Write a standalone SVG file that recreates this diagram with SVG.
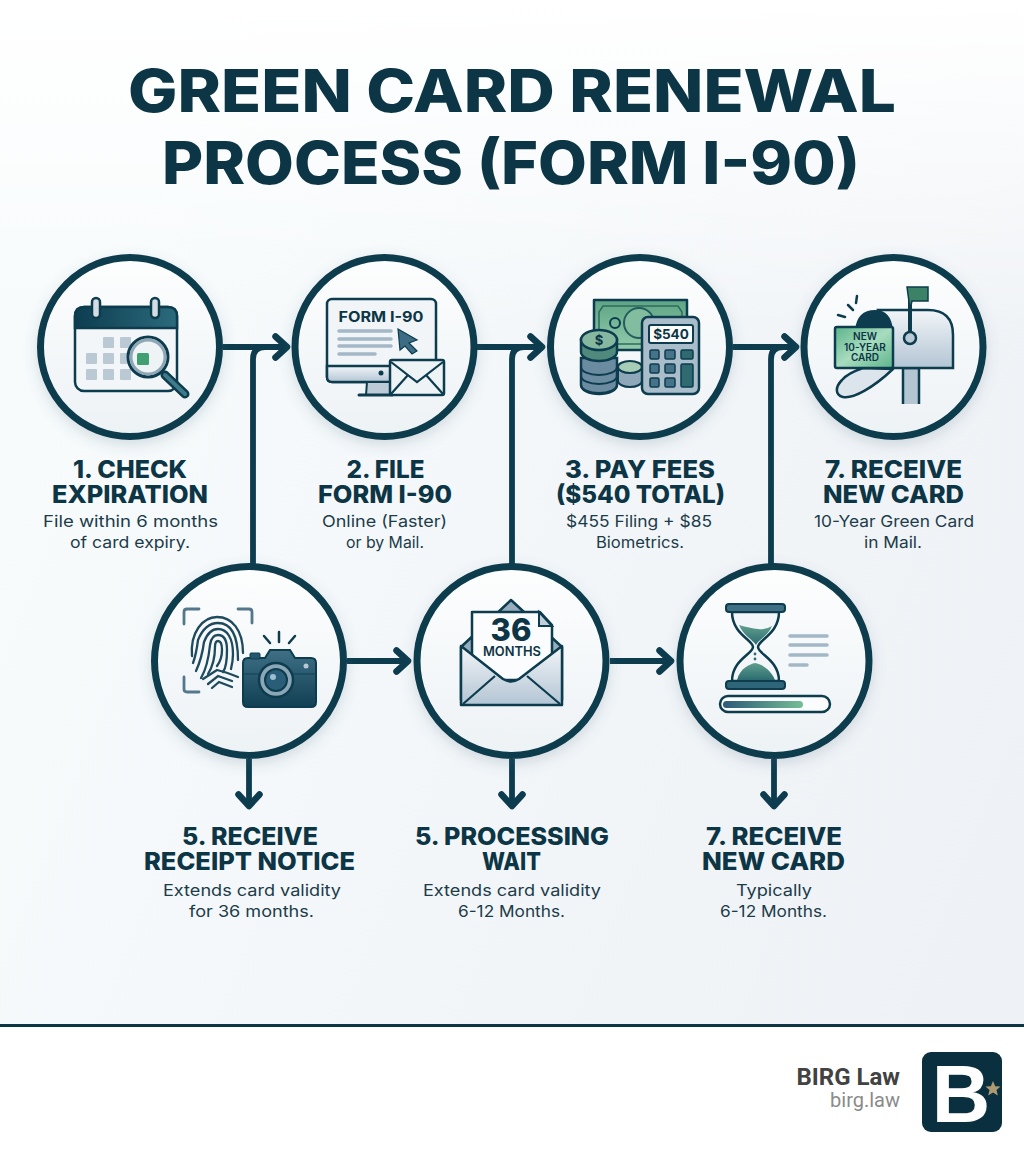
<svg xmlns="http://www.w3.org/2000/svg" width="1024" height="1154" viewBox="0 0 1024 1154">
<style>
text{font-family:"Inter","Liberation Sans",sans-serif;fill:#0c3545;text-anchor:middle}
.t{font-size:59px;font-weight:800}
.h{font-size:24px;font-weight:800}
.s{font-size:16px;font-weight:400;fill:#1c3c4a}
.ring{fill:url(#disc);stroke:#0c3c4e;stroke-width:7;filter:url(#sh)}
.c{fill:none;stroke:#0c3c4e;stroke-width:5.8;stroke-linejoin:round}
.o{stroke:#0c3c4e;stroke-width:2.5;stroke-linejoin:round}
.ln{stroke:#a3b7c6;stroke-width:3.5;stroke-linecap:round;fill:none}
.g{fill:#b7c6d2;opacity:.95}
.fp{fill:none;stroke:#1e4a5e;stroke-width:2.3;stroke-linecap:round}
.ic{font-weight:700}
</style>
<defs>
<linearGradient id="bg" gradientUnits="userSpaceOnUse" x1="0" y1="500" x2="1024" y2="900"><stop offset="0" stop-color="#f7fbfc"/><stop offset="1" stop-color="#eef1f5"/></linearGradient>
<linearGradient id="top" x1="0" y1="0" x2="0" y2="1"><stop offset="0" stop-color="#fff"/><stop offset=".25" stop-color="#fff" stop-opacity=".75"/><stop offset="1" stop-color="#fff" stop-opacity="0"/></linearGradient>
<linearGradient id="disc" x1="0" y1="0" x2="0" y2="1"><stop offset="0" stop-color="#fdfefe"/><stop offset="1" stop-color="#edf2f5"/></linearGradient>
<linearGradient id="met" x1="0" y1="0" x2="0" y2="1"><stop offset="0" stop-color="#f2f5f8"/><stop offset="1" stop-color="#b3c5d4"/></linearGradient>
<linearGradient id="dark" x1="0" y1="0" x2="1" y2="0"><stop offset="0" stop-color="#0d3d50"/><stop offset="1" stop-color="#2b6b7c"/></linearGradient>
<linearGradient id="cam" x1="0" y1="0" x2="0" y2="1"><stop offset="0" stop-color="#3f7086"/><stop offset="1" stop-color="#113f53"/></linearGradient>
<linearGradient id="grn" x1="0" y1="0" x2="1" y2="1"><stop offset="0" stop-color="#5cb48a"/><stop offset=".5" stop-color="#a8dcbf"/><stop offset="1" stop-color="#5cb48a"/></linearGradient>
<linearGradient id="bill" x1="0" y1="0" x2="0" y2="1"><stop offset="0" stop-color="#5ea585"/><stop offset="1" stop-color="#93cbab"/></linearGradient>
<linearGradient id="sand" x1="0" y1="0" x2="0" y2="1"><stop offset="0" stop-color="#5f9f8e"/><stop offset="1" stop-color="#2c6c70"/></linearGradient>
<linearGradient id="bar" x1="0" y1="0" x2="1" y2="0"><stop offset="0" stop-color="#2c5a78"/><stop offset="1" stop-color="#76bd95"/></linearGradient>
<filter id="sh" x="-20%" y="-20%" width="140%" height="140%"><feDropShadow dx="0" dy="5" stdDeviation="7" flood-color="#4a6a7c" flood-opacity=".2"/></filter>
<marker id="a" markerUnits="userSpaceOnUse" markerWidth="30" markerHeight="34" refX="18" refY="16" orient="auto" overflow="visible"><path d="M5.500,5.500 L17,16 L5.500,26.500" fill="none" stroke="#0c3c4e" stroke-width="6.500" stroke-linecap="round" stroke-linejoin="round"/></marker>
</defs>
<rect width="1024" height="1154" fill="url(#bg)"/>
<rect width="1024" height="330" fill="url(#top)"/>
<g id="title">
<text class="t" x="512" y="112" textLength="768" lengthAdjust="spacingAndGlyphs">GREEN CARD RENEWAL</text>
<text class="t" x="511" y="184" textLength="698" lengthAdjust="spacingAndGlyphs">PROCESS (FORM I-90)</text>
</g>
<g id="connectors">
<path class="c" d="M253,566 V359 Q253,347 265,347"/>
<path class="c" d="M512,566 V359 Q512,347 524,347"/>
<path class="c" d="M771,566 V359 Q771,347 783,347"/>
<path class="c" d="M223,347 H288" marker-end="url(#a)"/>
<path class="c" d="M477,347 H543" marker-end="url(#a)"/>
<path class="c" d="M733,347 H797" marker-end="url(#a)"/>
<path class="c" d="M347,661 H409" marker-end="url(#a)"/>
<path class="c" d="M610,661 H672" marker-end="url(#a)"/>
<path class="c" d="M249,759 V807" marker-end="url(#a)"/>
<path class="c" d="M512,759 V807" marker-end="url(#a)"/>
<path class="c" d="M774,759 V807" marker-end="url(#a)"/>
</g>
<g id="step1">
<circle class="ring" cx="130" cy="347" r="89.5"/>
<rect class="o" x="75" y="307" width="102" height="84" rx="9" fill="#f3f6f8"/>
<path d="M75,328 V316 Q75,307 84,307 H168 Q177,307 177,316 V328 Z" fill="url(#dark)" stroke="#0c3c4e" stroke-width="2.5"/>
<rect class="o" x="92" y="298" width="8" height="20" rx="4" fill="#d4dde4"/>
<rect class="o" x="151" y="298" width="8" height="20" rx="4" fill="#d4dde4"/>
<rect class="g" x="103" y="337" width="11" height="11" rx="1"/><rect class="g" x="120" y="337" width="11" height="11" rx="1"/>
<rect class="g" x="86" y="353" width="11" height="11" rx="1"/><rect class="g" x="103" y="353" width="11" height="11" rx="1"/><rect class="g" x="120" y="353" width="11" height="11" rx="1"/>
<rect class="g" x="86" y="369" width="11" height="11" rx="1"/><rect class="g" x="103" y="369" width="11" height="11" rx="1"/><rect class="g" x="120" y="369" width="11" height="11" rx="1"/>
<path d="M165,375 L185,394" stroke="#0c3c4e" stroke-width="9" stroke-linecap="round"/>
<path d="M165,375 L185,394" stroke="#3f7b8b" stroke-width="4" stroke-linecap="round"/>
<circle cx="148" cy="357" r="20" fill="#eef3f5" stroke="#0c3c4e" stroke-width="3"/>
<circle cx="148" cy="357" r="17" fill="none" stroke="#8fa6b5" stroke-width="3"/>
<rect x="137" y="353" width="12" height="12" rx="1.5" fill="#41a071"/>
<text class="h" x="130" y="478" textLength="114" lengthAdjust="spacingAndGlyphs">1. CHECK</text>
<text class="h" x="130" y="503" textLength="156" lengthAdjust="spacingAndGlyphs">EXPIRATION</text>
<text class="s" x="130.500" y="527" textLength="175" lengthAdjust="spacingAndGlyphs">File within 6 months</text>
<text class="s" x="130" y="548" textLength="120" lengthAdjust="spacingAndGlyphs">of card expiry.</text>
</g>
<g id="step2">
<circle class="ring" cx="384.500" cy="347" r="89.5"/>
<rect class="o" x="327" y="299" width="109" height="83" rx="5" fill="#f1f5f8"/>
<path d="M327,366 H436 V377 Q436,382 431,382 H332 Q327,382 327,377 Z" fill="url(#met)" stroke="#0c3c4e" stroke-width="2.5"/>
<text class="ic" x="381" y="322" font-size="15" textLength="85" lengthAdjust="spacingAndGlyphs">FORM I-90</text>
<path class="ln" d="M339,331 H391 M339,339 H391 M339,346 H391 M339,354 H375" stroke-width="2.5"/>
<path d="M398,329 L417,340 L409,343 L417,351 L412,354 L405,346 L400,350 Z" fill="#3d6c85" stroke="#0c3c4e" stroke-width="1.2"/>
<circle cx="381" cy="373" r="2.5" fill="#0c3c4e"/>
<path d="M367,382 L366,395 H392 V382 Z" fill="#bccbd7" stroke="#0c3c4e" stroke-width="2"/>
<path d="M359,395 H392" stroke="#0c3c4e" stroke-width="3" stroke-linecap="round"/>
<rect class="o" x="390" y="360" width="54" height="35" rx="2" fill="#eef3f6"/>
<path d="M391,362 L417,382 L443,362 M391,394 L408,375 M443,394 L426,375" fill="none" stroke="#0c3c4e" stroke-width="2.2"/>
<text class="h" x="385.500" y="478" textLength="78" lengthAdjust="spacingAndGlyphs">2. FILE</text>
<text class="h" x="385" y="503" textLength="134" lengthAdjust="spacingAndGlyphs">FORM I-90</text>
<text class="s" x="384.500" y="527" textLength="125" lengthAdjust="spacingAndGlyphs">Online (Faster)</text>
<text class="s" x="385" y="548" textLength="78" lengthAdjust="spacingAndGlyphs">or by Mail.</text>
</g>
<g id="step3">
<circle class="ring" cx="640" cy="347" r="89.5"/>
<rect class="o" x="594" y="300" width="93" height="50" fill="url(#bill)"/>
<path d="M603,306 H678 L682,312 V344 H599 V312 Z" fill="none" stroke="#2c6b5c" stroke-width="1.5"/>
<circle cx="615" cy="323" r="5" fill="none" stroke="#0c3c4e" stroke-width="2"/>
<circle cx="639" cy="323" r="15" fill="#83bd9f" stroke="#245d5c" stroke-width="2"/>
<path d="M581,358 V385 A18,9 0 0 0 617,385 V358 Z" fill="#6b8ba0" stroke="#0c3c4e" stroke-width="2.5"/>
<path d="M581,367 A18,8 0 0 0 617,367 M581,376 A18,8 0 0 0 617,376 M581,385 A18,8 0 0 0 617,385" fill="none" stroke="#0c3c4e" stroke-width="2"/>
<path d="M618,368 V381 A12,6 0 0 0 642,381 V368 Z" fill="#8ea8ba" stroke="#0c3c4e" stroke-width="2"/>
<ellipse cx="630" cy="367" rx="12" ry="6" fill="#a8cdb7" stroke="#0c3c4e" stroke-width="2"/>
<path d="M581,340 V352 A18,9 0 0 0 617,352 V340 Z" fill="#4f8a7c" stroke="#0c3c4e" stroke-width="2.5"/>
<ellipse cx="599" cy="340" rx="18" ry="10" fill="#86b8a0" stroke="#0c3c4e" stroke-width="2.5"/>
<text class="ic" x="599" y="345" font-size="13">$</text>
<rect class="o" x="642" y="317" width="57" height="77" rx="6" fill="#a9bdcb"/>
<rect x="649" y="325" width="44" height="18" rx="2" fill="#fbfcfd" stroke="#0c3c4e" stroke-width="2"/>
<text class="ic" x="671" y="339" font-size="13.500">$540</text>
<g fill="#46738a" stroke="#0c3c4e" stroke-width="1.5">
<rect x="650" y="350" width="9" height="9" rx="1.5"/><rect x="665" y="350" width="10" height="9" rx="1.5"/><rect x="681" y="350" width="12" height="9" rx="1.5" fill="#2e6a6f"/>
<rect x="650" y="364" width="9" height="9" rx="1.5"/><rect x="665" y="364" width="10" height="9" rx="1.5"/><rect x="681" y="364" width="12" height="23" rx="1.5" fill="#2e6a6f"/>
<rect x="650" y="378" width="9" height="9" rx="1.5"/><rect x="665" y="378" width="10" height="9" rx="1.5"/>
</g>
<text class="h" x="640" y="478" textLength="150" lengthAdjust="spacingAndGlyphs">3. PAY FEES</text>
<text class="h" x="640.500" y="503" textLength="169" lengthAdjust="spacingAndGlyphs">($540 TOTAL)</text>
<text class="s" x="639" y="527" textLength="146" lengthAdjust="spacingAndGlyphs">$455 Filing + $85</text>
<text class="s" x="640" y="548" textLength="88" lengthAdjust="spacingAndGlyphs">Biometrics.</text>
</g>
<g id="step4">
<circle class="ring" cx="893.500" cy="347" r="89.5"/>
<path d="M903,404 V368 H919 V404" fill="#b5c6d3" stroke="#0c3c4e" stroke-width="2.5"/>
<path d="M878,310 H928 Q953,310 953,335 V368 H893 Z" fill="url(#met)" stroke="#0c3c4e" stroke-width="2.5"/>
<path d="M855,330 Q857,310 875,310 Q891,310 893,330 Z" fill="#0c3c4e"/>
<path d="M893,369 C873,388 853,399 843,397 C835,395 835,387 842,380 C848,373 857,370 863,368 Z" fill="#dde5ec" stroke="#0c3c4e" stroke-width="2.5" stroke-linejoin="round"/>
<rect x="835" y="327" width="58" height="41" rx="2" fill="url(#grn)" stroke="#0c3c4e" stroke-width="2.5"/>
<text x="865" y="340" font-size="10" font-weight="600">NEW</text>
<text x="865" y="351" font-size="10" font-weight="600">10-YEAR</text>
<text x="865" y="361" font-size="10" font-weight="600">CARD</text>
<path d="M910,338 V290" stroke="#0c3c4e" stroke-width="4"/>
<path d="M907,287 H928 V301 H912 L910,309 Z" fill="#3b8267" stroke="#0c3c4e" stroke-width="1.5"/>
<circle cx="910" cy="338" r="6" fill="#b9c9d6" stroke="#0c3c4e" stroke-width="2.5"/>
<path d="M838,315 L845,317 M848,305 L853,310 M857,296 L856,303" stroke="#0c3c4e" stroke-width="2.5" stroke-linecap="round"/>
<text class="h" x="893.500" y="478" textLength="137" lengthAdjust="spacingAndGlyphs">7. RECEIVE</text>
<text class="h" x="893.500" y="503" textLength="141" lengthAdjust="spacingAndGlyphs">NEW CARD</text>
<text class="s" x="894" y="527" textLength="160" lengthAdjust="spacingAndGlyphs">10-Year Green Card</text>
<text class="s" x="893" y="548" textLength="58" lengthAdjust="spacingAndGlyphs">in Mail.</text>
</g>
<g id="step5">
<circle class="ring" cx="249" cy="661" r="94.500"/>
<path d="M184,624 V612 Q184,609 187,609 H199 M238,609 H249 Q252,609 252,612 V623 M184,677 V689 Q184,692 187,692 H199" fill="none" stroke="#55778c" stroke-width="2.8" stroke-linecap="round"/>
<g class="fp">
<path d="M192,656 C190,632 203,617 217,617 C232,617 243,630 243,653"/>
<path d="M193,663 C196,655 197,648 198,640 C203,628 210,623 218,623 C230,623 238,632 238,660"/>
<path d="M196,671 C201,660 203,650 204,642 C207,634 212,629 218,629 C227,629 233,638 233,654 C233,660 232,665 231,669"/>
<path d="M201,678 C207,668 209,655 210,645 C211,638 214,635 218,635 C224,635 227,641 227,650 C227,660 226,668 223,672"/>
<path d="M208,674 C213,666 215,655 215,647 C215,642 216,641 218,641 C221,641 222,645 222,650 C222,658 220,662 217,666"/>
<path d="M203,679 L217,670 Q226,672 238,677 M208,684 L218,676 L232,681 M212,688 L219,682 L232,687"/>
</g>
<path d="M265,658 L270,650 H290 L295,658 H311 Q316,658 316,663 V702 Q316,707 311,707 H248 Q243,707 243,702 V663 Q243,658 248,658 Z" fill="url(#cam)" stroke="#0c3c4e" stroke-width="2"/>
<rect x="250" y="653" width="10" height="6" rx="1" fill="#23586c" stroke="#0c3c4e"/>
<path d="M243,674 H316" stroke="#0c3c4e" stroke-width="1.5" opacity=".6"/>
<circle cx="276" cy="680" r="17" fill="#8ba6b6" stroke="#0c3c4e" stroke-width="2.5"/>
<circle cx="276" cy="680" r="11" fill="#2a5d78" stroke="#0c3c4e" stroke-width="2"/>
<circle cx="273" cy="677" r="3" fill="#9cc0d0"/>
<circle cx="306" cy="666" r="2.5" fill="#b7c9d4"/>
<path d="M264,636 L270,643 M279,632 V642 M295,636 L289,643" stroke="#0c3c4e" stroke-width="2.500" stroke-linecap="round"/>
<text class="h" x="250" y="845" textLength="136" lengthAdjust="spacingAndGlyphs">5. RECEIVE</text>
<text class="h" x="249.500" y="870" textLength="211" lengthAdjust="spacingAndGlyphs">RECEIPT NOTICE</text>
<text class="s" x="252" y="896" textLength="178" lengthAdjust="spacingAndGlyphs">Extends card validity</text>
<text class="s" x="251.500" y="917" textLength="125" lengthAdjust="spacingAndGlyphs">for 36 months.</text>
</g>
<g id="step6">
<circle class="ring" cx="511.500" cy="661" r="94.500"/>
<path d="M461,647 L511,600 L562,647 V700 H461 Z" fill="#97adbd" stroke="#0c3c4e" stroke-width="2.500" stroke-linejoin="round"/>
<path d="M472,612 H540 L552,625 V680 H472 Z" fill="#fbfcfd" stroke="#0c3c4e" stroke-width="2.500" stroke-linejoin="round"/>
<path d="M539,612 V626 H552 Z" fill="#c1cfda" stroke="#0c3c4e" stroke-width="2"/>
<text x="511" y="641" font-size="31" font-weight="800">36</text>
<text x="512" y="656" font-size="13" font-weight="600" textLength="58" lengthAdjust="spacingAndGlyphs">MONTHS</text>
<path d="M461,646 L503,679 Q511,684 519,679 L562,646 V705 H461 Z" fill="url(#met)" stroke="#0c3c4e" stroke-width="2.500" stroke-linejoin="round"/>
<path d="M463,704 L495,676 M560,704 L527,676" stroke="#0c3c4e" stroke-width="2.200"/>
<text class="h" x="512" y="845" textLength="194" lengthAdjust="spacingAndGlyphs">5. PROCESSING</text>
<text class="h" x="511.500" y="870" textLength="59" lengthAdjust="spacingAndGlyphs">WAIT</text>
<text class="s" x="512" y="896" textLength="178" lengthAdjust="spacingAndGlyphs">Extends card validity</text>
<text class="s" x="511.500" y="917" textLength="107" lengthAdjust="spacingAndGlyphs">6-12 Months.</text>
</g>
<g id="step7">
<circle class="ring" cx="774.500" cy="661" r="94.500"/>
<path d="M732,612 C732,634 753,640 753,647 C753,654 732,660 732,681 H779 C779,660 758,654 758,647 C758,640 779,634 779,612 Z" fill="#f3f6f8" stroke="#0c3c4e" stroke-width="2.500"/>
<path d="M739,625 Q750,628 758,629 Q766,630 772,626 C768,636 758,640 756,645 C753,640 743,635 739,625 Z" fill="url(#sand)"/>
<path d="M737,680 C740,668 750,664 755,663 C762,664 771,670 775,680 Z" fill="url(#sand)"/>
<circle cx="755" cy="654" r="1.400" fill="#2c6c70"/><circle cx="755" cy="659" r="1.400" fill="#2c6c70"/>
<rect x="726" y="604" width="59" height="8" rx="3" fill="#3f6f85" stroke="#0c3c4e" stroke-width="2"/>
<rect x="726" y="681" width="59" height="8" rx="3" fill="#2f6578" stroke="#0c3c4e" stroke-width="2"/>
<path class="ln" d="M790,636 H827 M790,645 H827 M790,655 H827 M790,665 H807" stroke-width="3"/>
<rect x="720" y="696" width="110" height="16" rx="8" fill="#fbfcfd" stroke="#0c3c4e" stroke-width="2.500"/>
<rect x="723" y="701" width="80" height="7" rx="3.500" fill="url(#bar)"/>
<text class="h" x="774" y="845" textLength="136" lengthAdjust="spacingAndGlyphs">7. RECEIVE</text>
<text class="h" x="773.500" y="870" textLength="143" lengthAdjust="spacingAndGlyphs">NEW CARD</text>
<text class="s" x="774" y="896" textLength="76" lengthAdjust="spacingAndGlyphs">Typically</text>
<text class="s" x="773.500" y="917" textLength="107" lengthAdjust="spacingAndGlyphs">6-12 Months.</text>
</g>
<g id="footer">
<rect x="0" y="1025" width="1024" height="129" fill="#fff"/>
<rect x="0" y="1024" width="1024" height="3" fill="#0c3545"/>
<text x="900" y="1085" font-size="24" font-weight="700" style="font-family:Roboto,sans-serif;fill:#424242;text-anchor:end">BIRG Law</text>
<text x="900" y="1107" font-size="20" style="font-family:Roboto,sans-serif;fill:#8a8a8a;text-anchor:end">birg.law</text>
<rect x="922" y="1052" width="80" height="80" rx="9" fill="#0a2f3e"/>
<text x="961" y="1122" font-size="81" font-weight="700" style="font-family:'Liberation Sans',sans-serif;fill:#fff">B</text>
<polygon points="993,1081 995.200,1086.200 1000.500,1086.500 996.500,1090 997.800,1095.500 993,1092.500 988.200,1095.500 989.500,1090 985.500,1086.500 990.800,1086.200" fill="#ad9a72"/>
</g>
</svg>
